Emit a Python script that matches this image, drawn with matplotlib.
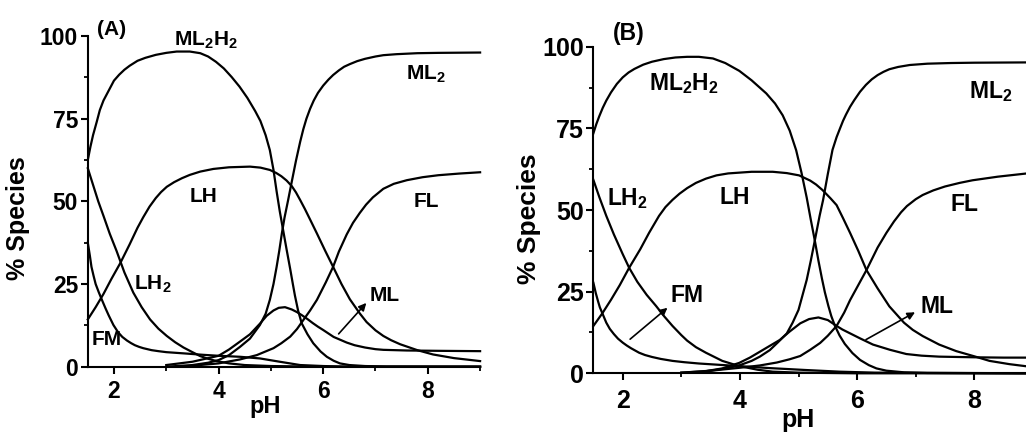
import matplotlib
matplotlib.use('Agg')
import matplotlib.pyplot as plt
from matplotlib.ticker import MultipleLocator

plt.rcParams['font.family'] = ['Liberation Sans', 'DejaVu Sans']
plt.rcParams['font.weight'] = 'bold'
plt.rcParams['mathtext.fontset'] = 'custom'
plt.rcParams['mathtext.rm'] = 'Liberation Sans:bold'
plt.rcParams['mathtext.bf'] = 'Liberation Sans:bold'
plt.rcParams['mathtext.it'] = 'Liberation Sans:bold'

# ---------------- panel (A) : % species vs pH ----------------
ph_ml2h2_a = [1.5, 1.55, 1.6, 1.67, 1.73, 1.8, 1.9, 2.0, 2.1, 2.2, 2.3, 2.45, 2.6, 2.8, 3.0, 3.2, 3.45,
              3.65, 3.8, 3.95, 4.1, 4.25, 4.4, 4.55, 4.7, 4.8, 4.9, 4.98, 5.05, 5.11, 5.17, 5.24, 5.30,
              5.37, 5.42, 5.46, 5.52, 5.59, 5.7, 5.81, 5.95, 6.07, 6.2, 6.32, 6.5, 6.8, 7.2, 9.0]
ml2h2_a = [62.5, 66.5, 70, 74, 77.6, 80.5, 83.5, 86.5, 88.3, 89.8, 91, 92.5, 93.4, 94.3, 94.9, 95.3, 95.3,
           94.8, 93.8, 92.2, 90.2, 87.6, 84.7, 81.3, 77.3, 74.3, 70, 65.5, 59.5, 53, 47, 40.8, 35.5,
           29.5, 25, 21.5, 17, 13.1, 9.8, 7.1, 4.6, 3.0, 1.8, 1.0, 0.5, 0.2, 0.05, 0]

ph_ml2_a = [3.0, 3.5, 3.8, 4.0, 4.2, 4.41, 4.6, 4.79, 4.9, 4.98, 5.05, 5.11, 5.16, 5.21, 5.26, 5.33, 5.4,
            5.48, 5.56, 5.62, 5.68, 5.75, 5.82, 5.9, 6.0, 6.1, 6.19, 6.3, 6.4, 6.51, 6.65, 6.8, 7.0,
            7.15, 7.4, 7.8, 8.2, 9.0]
ml2_a = [0, 0.5, 1.2, 2, 3.5, 6.0, 8.5, 12.6, 16, 20.2, 25, 30.2, 35, 40.3, 45, 50.4, 56,
         62.3, 68, 71.8, 75, 78, 80.5, 82.8, 85, 86.8, 88.2, 89.6, 90.7, 91.5, 92.4, 93.1, 93.8,
         94.2, 94.5, 94.8, 94.9, 95]

ph_ml_a = [3.0, 3.5, 4.0, 4.2, 4.41, 4.6, 4.79, 4.92, 5.05, 5.15, 5.27, 5.4, 5.5, 5.59, 5.7, 5.8, 5.9,
           6.0, 6.2, 6.45, 6.6, 6.8, 7.0, 7.15, 7.6, 8.2, 9.0]
ml_a = [0.5, 1.5, 3.3, 5.2, 7.6, 9.8, 13.0, 15.4, 17, 17.8, 18, 17.3, 16.5, 15.6, 14.4, 13.2, 12.1,
        11.1, 9.0, 7.3, 6.5, 5.8, 5.3, 5.1, 4.9, 4.8, 4.7]

ph_fl_a = [3.5, 4.0, 4.41, 4.73, 5.05, 5.2, 5.37, 5.5, 5.62, 5.75, 5.88, 6.05, 6.19, 6.3, 6.45, 6.57,
           6.7, 6.82, 6.95, 7.15, 7.35, 7.6, 7.9, 8.2, 8.6, 9.0]
fl_a = [0.3, 1.0, 2.2, 3.5, 5.6, 7.1, 9.1, 11.4, 14.1, 17, 20.2, 25.5, 30.2, 34.8, 40, 43.5,
        46.5, 49, 51.2, 53.8, 55.3, 56.4, 57.3, 57.9, 58.4, 58.8]

ph_lh_a = [1.5, 1.65, 1.8, 1.95, 2.12, 2.3, 2.45, 2.56, 2.68, 2.8, 2.9, 3.01, 3.15, 3.3, 3.45, 3.65,
           3.9, 4.2, 4.6, 4.8, 4.98, 5.1, 5.2, 5.3, 5.4, 5.48, 5.56, 5.65, 5.75, 5.88, 6.04, 6.19,
           6.35, 6.51, 6.7, 6.83, 7.0, 7.15, 7.3, 7.47, 7.8, 8.1, 8.5, 9.0]
lh_a = [14.3, 18, 22, 26.5, 31.3, 37, 42, 45.2, 48.4, 51, 52.8, 54.4, 55.8, 57, 58, 59,
        59.8, 60.3, 60.5, 60.2, 59.5, 58.6, 57.6, 56.3, 54.6, 52.7, 50.4, 47.7, 44.5, 40.3, 35, 30.2,
        25, 20.4, 16.1, 13.5, 11, 9.3, 8.0, 6.8, 5.0, 3.7, 2.6, 1.7]

ph_lh2_a = [1.5, 1.6, 1.7, 1.8, 1.92, 2.05, 2.2, 2.37, 2.53, 2.69, 2.85, 3.01, 3.17, 3.33, 3.5, 3.65,
            3.8, 3.96, 4.2, 4.5, 5.0, 6.0, 9.0]
lh2_a = [60, 55, 50, 45.6, 40.2, 35, 28.5, 22.4, 18, 14.3, 11.5, 9.3, 7.4, 5.8, 4.4, 3.2,
         2.4, 1.7, 1.0, 0.5, 0.2, 0, 0]

ph_fm_a = [1.5, 1.54, 1.57, 1.61, 1.65, 1.71, 1.77, 1.84, 1.9, 1.99, 2.08, 2.16, 2.25, 2.33, 2.4, 2.48,
           2.56, 2.72, 2.85, 3.0, 3.36, 3.7, 4.0, 4.41, 4.79, 5.17, 5.56, 6.0, 6.5, 9.0]
fm_a = [37.5, 33.5, 30.2, 27.5, 25, 22.5, 20.2, 17.6, 15.5, 12.6, 10.4, 9.0, 7.9, 7.1, 6.5, 6.0,
        5.6, 5.0, 4.7, 4.4, 4.0, 3.6, 3.3, 3.0, 2.5, 1.5, 0.5, 0.2, 0, 0]

# ---------------- panel (B) ----------------
ph_ml2h2_b = [1.5, 1.55, 1.6, 1.66, 1.72, 1.8, 1.9, 2.0, 2.1, 2.2, 2.35, 2.5, 2.7, 2.9, 3.1, 3.3, 3.54,
              3.75, 3.99, 4.2, 4.45, 4.6, 4.73, 4.85, 4.96, 5.05, 5.14, 5.21, 5.28, 5.34, 5.40, 5.45,
              5.51, 5.56, 5.62, 5.7, 5.79, 5.92, 6.05, 6.2, 6.33, 6.5, 6.8, 7.2, 9.0]
ml2h2_b = [73.5, 76.3, 78.7, 81.3, 83.5, 86, 88.6, 90.6, 92.1, 93.2, 94.5, 95.4, 96.2, 96.7, 96.9, 96.9,
           96.4, 95, 92.6, 89.7, 85.7, 82.6, 79, 74.3, 68.3, 61.5, 53.8, 47, 40.5, 34.5, 29, 24.8,
           20.6, 17.5, 14.6, 11.6, 9.0, 6.2, 4.1, 2.5, 1.5, 0.8, 0.3, 0.1, 0]

ph_ml2_b = [3.0, 3.5, 3.8, 4.0, 4.2, 4.34, 4.51, 4.65, 4.80, 4.9, 5.0, 5.07, 5.14, 5.21, 5.28, 5.36,
            5.42, 5.5, 5.58, 5.65, 5.7, 5.76, 5.81, 5.88, 5.95, 6.05, 6.15, 6.25, 6.35, 6.45, 6.55,
            6.7, 6.9, 7.2, 7.6, 8.0, 9.0]
ml2_b = [0.2, 0.8, 1.6, 2.5, 3.8, 5.1, 7.1, 9.5, 12.2, 15.5, 19.4, 24, 28.6, 34.5, 40.8, 48.2,
         53.1, 61, 68.4, 72.3, 74.6, 77.3, 79.2, 81.6, 83.6, 86.2, 88.3, 90, 91.3, 92.3, 93.1,
         93.8, 94.4, 94.8, 95, 95.1, 95.2]

ph_ml_b = [3.0, 3.4, 3.7, 3.99, 4.17, 4.34, 4.5, 4.68, 4.85, 5.03, 5.18, 5.34, 5.5, 5.65, 5.75, 5.85,
           5.95, 6.05, 6.27, 6.56, 6.84, 7.1, 7.4, 8.0, 8.5, 9.0]
ml_b = [0.2, 0.6, 1.5, 3.2, 4.8, 6.6, 8.3, 10.2, 12.8, 15.3, 16.6, 17.1, 16.3, 14.5, 13.4, 12.5,
        11.6, 10.7, 8.8, 7.2, 5.9, 5.4, 5.1, 4.9, 4.8, 4.8]

ph_fl_b = [3.4, 4.0, 4.34, 4.63, 4.85, 5.03, 5.2, 5.37, 5.5, 5.65, 5.78, 5.88, 6.02, 6.16, 6.35, 6.5,
           6.63, 6.75, 6.85, 7.0, 7.12, 7.3, 7.5, 7.75, 7.97, 8.4, 9.0]
fl_b = [0.6, 1.7, 2.4, 3.3, 4.3, 5.3, 7.2, 9.3, 11.5, 14.5, 18.6, 22.4, 27, 31.6, 38.5, 43,
        46.5, 49.3, 51.2, 53.3, 54.6, 56, 57.2, 58.3, 59.1, 60.2, 61.4]

ph_lh_b = [1.5, 1.65, 1.8, 1.95, 2.11, 2.3, 2.45, 2.62, 2.73, 2.85, 2.97, 3.1, 3.25, 3.42, 3.6, 3.8,
           4.2, 4.56, 4.8, 5.01, 5.2, 5.3, 5.41, 5.55, 5.65, 5.76, 5.88, 6.02, 6.16, 6.35, 6.55,
           6.8, 6.95, 7.12, 7.4, 7.69, 8.0, 8.26, 8.6, 9.0]
lh_b = [14.5, 18.3, 22.5, 27, 32.3, 38, 43, 48.2, 50.9, 53.1, 55, 56.7, 58.3, 59.6, 60.6, 61.2,
        61.7, 61.7, 61.3, 60.6, 59, 57.8, 56.1, 53.5, 51.5, 47.5, 43, 37.5, 31.6, 26, 20.5,
        15.5, 13.3, 11.4, 8.8, 6.8, 5.2, 3.8, 2.8, 1.9]

ph_lh2_b = [1.5, 1.6, 1.72, 1.85, 2.0, 2.11, 2.25, 2.41, 2.57, 2.71, 2.85, 3.0, 3.1, 3.25, 3.42, 3.7,
            3.99, 4.3, 4.56, 5.0, 6.0, 9.0]
lh2_b = [59.2, 54, 48.2, 42.5, 36.5, 32.3, 28, 24, 20.6, 17.4, 14.5, 11.7, 10, 8.0, 6.3, 3.8,
         2.2, 1.1, 0.5, 0.2, 0, 0]

ph_fm_b = [1.5, 1.54, 1.58, 1.61, 1.65, 1.72, 1.78, 1.85, 1.92, 2.0, 2.07, 2.14, 2.21, 2.28, 2.38, 2.5,
           2.65, 2.85, 3.05, 3.3, 3.99, 4.5, 5.13, 5.7, 6.3, 9.0]
fm_b = [27.7, 24.6, 22, 20.2, 18.5, 15.5, 13.6, 12, 10.6, 9.4, 8.5, 7.7, 7.0, 6.3, 5.6, 5.0,
        4.4, 3.8, 3.4, 3.0, 2.2, 1.6, 1.0, 0.5, 0.2, 0]

# species labels: (text, pH of left edge, % at baseline)
labels_a = [('(A)', 1.67, 100.3), (r'$\mathbf{ML_2H_2}$', 3.15, 97.2), (r'$\mathbf{ML_2}$', 7.58, 86.9),
            ('LH', 3.45, 49.9), ('FL', 7.72, 48.2), (r'$\mathbf{LH_2}$', 2.38, 23.4),
            ('FM', 1.57, 6.5), ('ML', 6.88, 19.9)]
labels_b = [('(B)', 1.84, 102.0), (r'$\mathbf{ML_2H_2}$', 2.45, 86.7), (r'$\mathbf{ML_2}$', 7.91, 84.2),
            ('LH', 3.65, 51.8), ('FL', 7.60, 49.8), (r'$\mathbf{LH_2}$', 1.74, 51.5),
            ('FM', 2.82, 21.8), ('ML', 7.09, 18.6)]
# arrows: (tail pH, tail %, head pH, head %)
arrows_a = [(6.26, 9.3, 6.86, 19.9)]
arrows_b = [(2.09, 9.9, 2.80, 20.6), (6.11, 9.9, 7.03, 19.1)]


def DrawPanel(ax, curves, labels, arrows, fs, tfs, xpad):
	for ph, y in curves:
		ax.plot(ph, y, 'k', lw=1.6, clip_on=False, solid_joinstyle='round')
	for txt, x, y in labels:
		ax.text(x, y, txt, fontsize=fs, fontweight='bold', ha='left', va='baseline')
	for x0, y0, x1, y1 in arrows:
		ax.annotate('', xy=(x1, y1), xytext=(x0, y0),
			arrowprops=dict(arrowstyle='-|>', lw=1.2, color='k', mutation_scale=11))
	ax.set_xlim(1.5, 9)
	ax.set_ylim(0, 100)
	ax.xaxis.set_major_locator(MultipleLocator(2))
	ax.xaxis.set_minor_locator(MultipleLocator(1))
	ax.yaxis.set_major_locator(MultipleLocator(25))
	ax.yaxis.set_minor_locator(MultipleLocator(12.5))
	ax.spines['top'].set_visible(False)
	ax.spines['right'].set_visible(False)
	for s in ['left', 'bottom']:
		ax.spines[s].set_linewidth(1.5)
	ax.tick_params(which='major', direction='out', length=5, width=1.5, labelsize=tfs, pad=2)
	ax.tick_params(axis='x', which='major', pad=xpad)
	ax.tick_params(which='minor', direction='out', length=3, width=1.3)
	for lab in ax.get_xticklabels() + ax.get_yticklabels():
		lab.set_fontweight('bold')


W, H = 1026.0, 432.0
fig = plt.figure(figsize=(W / 100, H / 100), dpi=100)

# axes placed in pixel terms (panel B runs off the right edge like the original)
axA = fig.add_axes([87.8 / W, (H - 366.7) / H, 392.3 / W, 330.7 / H])
axB = fig.add_axes([593.4 / W, (H - 373.3) / H, 439.5 / W, 326.6 / H])

curvesA = [(ph_ml2h2_a, ml2h2_a), (ph_ml2_a, ml2_a), (ph_ml_a, ml_a), (ph_fl_a, fl_a),
           (ph_lh_a, lh_a), (ph_lh2_a, lh2_a), (ph_fm_a, fm_a)]
curvesB = [(ph_ml2h2_b, ml2h2_b), (ph_ml2_b, ml2_b), (ph_ml_b, ml_b), (ph_fl_b, fl_b),
           (ph_lh_b, lh_b), (ph_lh2_b, lh2_b), (ph_fm_b, fm_b)]

DrawPanel(axA, curvesA, labels_a, arrows_a, 15, 16.5, 4.5)
DrawPanel(axB, curvesB, labels_b, arrows_b, 16.5, 18, 6)

# axis titles
fig.text(18.5 / W, 1 - 218 / H, '% Species', rotation=90, ha='center', va='center', fontsize=18, fontweight='bold')
fig.text(265 / W, 1 - 407 / H, 'pH', ha='center', va='center', fontsize=17, fontweight='bold')
fig.text(529 / W, 1 - 218.5 / H, '% Species', rotation=90, ha='center', va='center', fontsize=19, fontweight='bold')
fig.text(797.7 / W, 1 - 420 / H, 'pH', ha='center', va='center', fontsize=18, fontweight='bold')

fig.savefig('out.png', dpi=100)
